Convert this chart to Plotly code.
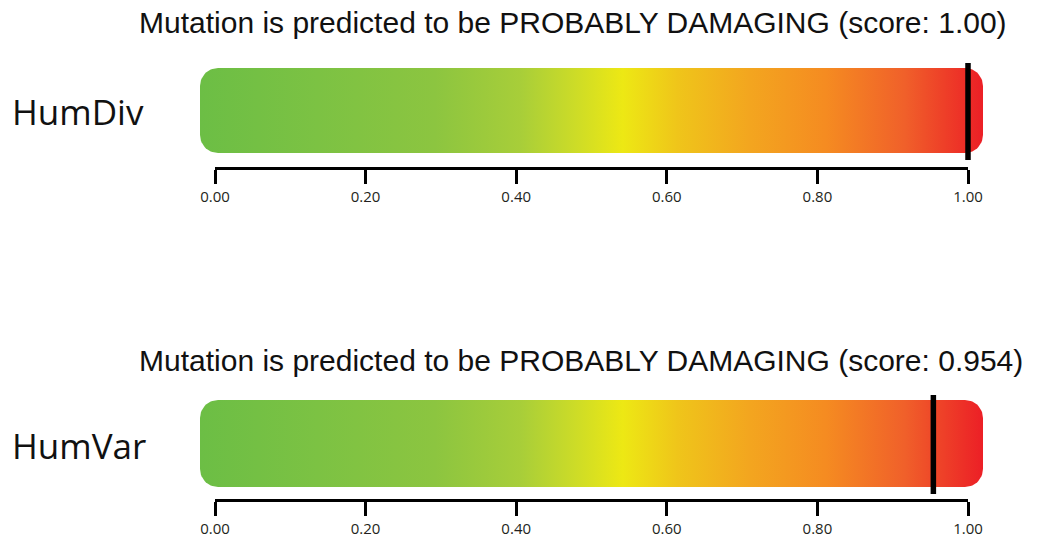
import numpy as np
import plotly.graph_objects as go

# ---------------- data ----------------
predictors = ["HumDiv", "HumVar"]
scores = [1.00, 0.954]
score_texts = ["1.00", "0.954"]
predictions = ["PROBABLY DAMAGING", "PROBABLY DAMAGING"]
tick_values = [0.0, 0.2, 0.4, 0.6, 0.8, 1.0]
tick_labels = ["0.00", "0.20", "0.40", "0.60", "0.80", "1.00"]
gradient_stops = [0.0, 0.15, 0.30, 0.41, 0.48, 0.54, 0.61, 0.70, 0.80, 0.90, 1.0]
gradient_colors = ["#6cbe45", "#7cc243", "#8cc540", "#a8ce39", "#cddc27", "#ede814",
                   "#efc51a", "#f3a61f", "#f58b21", "#f0602a", "#ec1f26"]

# ---------------- layout geometry (pixels) ----------------
W, H = 1063, 542
X0_PX, X1_PX = 215, 968          # pixel of score 0 and score 1
SCALE = (X1_PX - X0_PX)          # pixels per score unit
BAR_PAD_PX = 15                  # bar extends beyond 0..1
RADIUS_PX = 18
panels = [
    dict(title_y=22, bar_top=68, bar_bottom=153, axis_y=167, label_y=112),
    dict(title_y=360, bar_top=400, bar_bottom=487, axis_y=499, label_y=445),
]


def py(p):
    return 1 - p / H


def rounded_rect(x0, x1, y0, y1, r_px, n=16):
    rx = r_px / SCALE
    ry = r_px
    xs, ys = [], []
    corners = [
        (x1 - rx, y0 + ry, -90, 0),
        (x1 - rx, y1 - ry, 0, 90),
        (x0 + rx, y1 - ry, 90, 180),
        (x0 + rx, y0 + ry, 180, 270),
    ]
    for cx, cy, a0, a1 in corners:
        t = np.radians(np.linspace(a0, a1, n))
        xs.extend(cx + rx * np.cos(t))
        ys.extend(cy + ry * np.sin(t))
    xs.append(xs[0])
    ys.append(ys[0])
    return xs, ys


colorscale = [[s, c] for s, c in zip(gradient_stops, gradient_colors)]

fig = go.Figure()
pad = BAR_PAD_PX / SCALE

annotations = []
for i, (name, score, stext, pred, pn) in enumerate(
        zip(predictors, scores, score_texts, predictions, panels)):
    # gradient bar
    bx, byy = rounded_rect(0 - pad, 1 + pad, pn["bar_top"], pn["bar_bottom"], RADIUS_PX)
    fig.add_trace(go.Scatter(
        x=bx, y=byy, mode="lines", fill="toself",
        line=dict(width=0, color="rgba(0,0,0,0)"),
        fillgradient=dict(type="horizontal", colorscale=colorscale),
        hoverinfo="skip", showlegend=False, xaxis="x", yaxis="y"))
    # score marker
    fig.add_trace(go.Scatter(
        x=[score, score], y=[pn["bar_top"] - 5, pn["bar_bottom"] + 7],
        mode="lines", line=dict(color="black", width=5.5),
        hoverinfo="skip", showlegend=False, xaxis="x", yaxis="y"))
    # dummy trace so the tick axis is drawn
    ax = i + 2
    fig.add_trace(go.Scatter(
        x=[0, 1], y=[0, 1], mode="none", hoverinfo="skip", showlegend=False,
        xaxis=f"x{ax}", yaxis=f"y{ax}"))
    fig.layout[f"xaxis{ax}"] = dict(
        domain=[X0_PX / W, X1_PX / W], range=[0, 1], anchor=f"y{ax}",
        showline=True, linewidth=3, linecolor="black", mirror=False,
        ticks="outside", ticklen=14, tickwidth=3, tickcolor="black",
        tickvals=tick_values, ticktext=tick_labels, ticklabelstandoff=0,
        tickfont=dict(family="Open Sans, sans-serif", size=15, color="#231f20"),
        showgrid=False, zeroline=False, fixedrange=True, automargin=False)
    fig.layout[f"yaxis{ax}"] = dict(
        domain=[py(pn["axis_y"]), py(pn["bar_top"] - 10)], range=[0, 1],
        anchor=f"x{ax}", visible=False, fixedrange=True, automargin=False)
    # title
    annotations.append(dict(
        text=f"Mutation is predicted to be {pred} (score: {stext})",
        x=137 / W, y=py(pn["title_y"]), xref="paper", yref="paper",
        xanchor="left", yanchor="middle", showarrow=False,
        font=dict(family="Liberation Sans Narrow, Arial Narrow, sans-serif", size=30, color="#111111")))
    # predictor label
    annotations.append(dict(
        text=name, x=10 / W, y=py(pn["label_y"]), xref="paper", yref="paper",
        xanchor="left", yanchor="middle", showarrow=False,
        font=dict(family="Open Sans, sans-serif", size=35, color="#111111")))

fig.update_layout(
    width=W, height=H,
    margin=dict(l=0, r=0, t=0, b=0, pad=0, autoexpand=False),
    paper_bgcolor="white", plot_bgcolor="rgba(0,0,0,0)",
    xaxis=dict(domain=[0, 1], range=[-X0_PX / SCALE, (W - X0_PX) / SCALE],
               visible=False, fixedrange=True, automargin=False),
    yaxis=dict(domain=[0, 1], range=[H, 0], visible=False, fixedrange=True,
               automargin=False),
    annotations=annotations,
    showlegend=False,
)

fig.write_html("out.html", config={"displayModeBar": False},
               post_script="document.body.style.margin='0';")
